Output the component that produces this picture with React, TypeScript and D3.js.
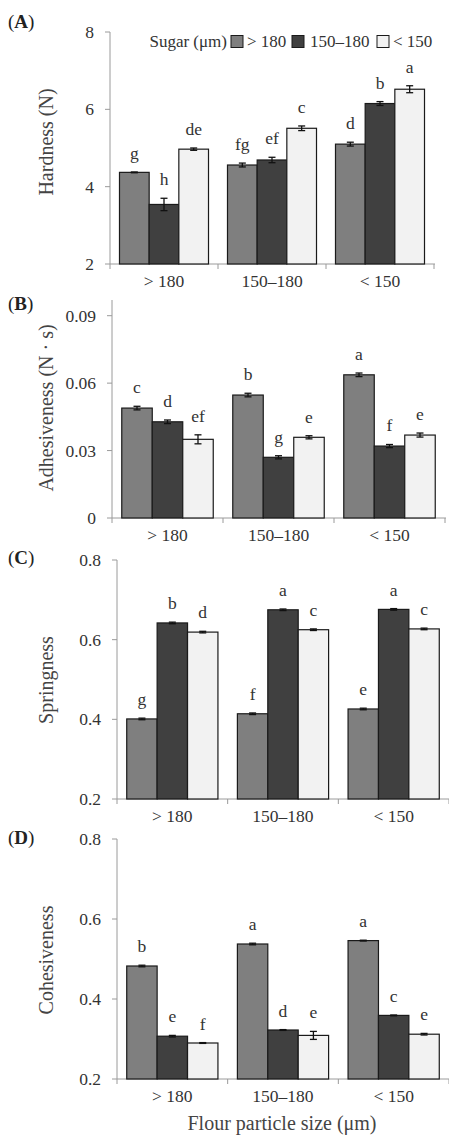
import React from 'react'
import { scaleBand, scaleLinear } from 'd3'

const flourSizes = ['> 180', '150–180', '< 150']
const sugarSizes = ['> 180', '150–180', '< 150']

// rows = flour particle size, columns = sugar particle size
const hardness = [[4.37, 3.54, 4.97], [4.56, 4.69, 5.51], [5.10, 6.15, 6.52]]
const hardnessErr = [[0.01, 0.16, 0.03], [0.05, 0.07, 0.06], [0.05, 0.05, 0.09]]
const hardnessLetters = [['g', 'h', 'de'], ['fg', 'ef', 'c'], ['d', 'b', 'a']]
const hardnessTicks = [2, 4, 6, 8]
const hardnessTickLabels = ['2', '4', '6', '8']

const adhesiveness = [[0.0489, 0.0428, 0.035], [0.0547, 0.027, 0.0359], [0.0637, 0.032, 0.0369]]
const adhesivenessErr = [[0.0008, 0.0008, 0.002], [0.0008, 0.0007, 0.0007], [0.0008, 0.0007, 0.0009]]
const adhesivenessLetters = [['c', 'd', 'ef'], ['b', 'g', 'e'], ['a', 'f', 'e']]
const adhesivenessTicks = [0, 0.03, 0.06, 0.09]
const adhesivenessTickLabels = ['0', '0.03', '0.06', '0.09']

const springiness = [[0.401, 0.642, 0.619], [0.414, 0.675, 0.625], [0.426, 0.676, 0.627]]
const springinessErr = [[0.002, 0.002, 0.002], [0.002, 0.002, 0.002], [0.002, 0.002, 0.002]]
const springinessLetters = [['g', 'b', 'd'], ['f', 'a', 'c'], ['e', 'a', 'c']]
const springinessTicks = [0.2, 0.4, 0.6, 0.8]
const springinessTickLabels = ['0.2', '0.4', '0.6', '0.8']

const cohesiveness = [[0.4825, 0.307, 0.29], [0.5375, 0.3225, 0.309], [0.546, 0.359, 0.312]]
const cohesivenessErr = [[0.002, 0.002, 0.001], [0.002, 0.001, 0.01], [0.001, 0.001, 0.002]]
const cohesivenessLetters = [['b', 'e', 'f'], ['a', 'd', 'e'], ['a', 'c', 'e']]
const cohesivenessTicks = [0.2, 0.4, 0.6, 0.8]
const cohesivenessTickLabels = ['0.2', '0.4', '0.6', '0.8']

const barColors = ['#7f7f7f', '#404040', '#f2f2f2']
const FONT = '"Liberation Serif", "Times New Roman", serif'
const axisColor = '#9a9a9a'
const textColor = '#333'

function Panel(props) {
  const { tag, tagY, title, titleY, values, errs, letters, ticks, tickLabels,
    x0, x1, yLo, yHi, pxLo, pxHi, axisTop } = props

  const xGroup = scaleBand().domain(flourSizes).range([x0, x1]).paddingInner(0).paddingOuter(0)
  const xBar = scaleBand().domain(sugarSizes).range([0, xGroup.bandwidth()]).paddingInner(0).paddingOuter(0.32)
  const y = scaleLinear().domain([yLo, yHi]).range([pxLo, pxHi])
  const top = axisTop ?? pxHi
  const dividers = [x0, ...flourSizes.map(f => xGroup(f) + xGroup.bandwidth())]

  return <g>
    <text x={8} y={tagY} fontSize={19} fontFamily={FONT} fill="#222">
      (<tspan fontWeight="bold">{tag}</tspan>)
    </text>
    <text transform={`translate(46,${titleY}) rotate(-90)`} textAnchor="middle" dominantBaseline="central"
      fontSize={20} fontFamily={FONT} fill="#444">{title}</text>

    <line x1={x0} x2={x0} y1={top} y2={pxLo} stroke={axisColor} strokeWidth={1} />
    <line x1={x0} x2={x1 + 1} y1={pxLo} y2={pxLo} stroke={axisColor} strokeWidth={1} />
    {ticks.map((t, i) => <g key={'t' + i}>
      <line x1={x0 - 5} x2={x0} y1={y(t)} y2={y(t)} stroke={axisColor} />
      <text x={x0 - 16} y={y(t)} dy="0.35em" textAnchor="end" fontSize={17.5} fontFamily={FONT} fill={textColor}>{tickLabels[i]}</text>
    </g>)}
    {dividers.map((d, i) => <line key={'d' + i} x1={d} x2={d} y1={pxLo} y2={pxLo + 5} stroke={axisColor} />)}

    {flourSizes.map((f, gi) => <g key={f} transform={`translate(${xGroup(f)},0)`}>
      {sugarSizes.map((s, si) => {
        const v = values[gi][si]
        const e = errs[gi][si]
        const bx = xBar(s)
        const bw = xBar.bandwidth()
        const cx = bx + bw / 2
        return <g key={s}>
          <rect x={bx} y={y(v)} width={bw} height={pxLo - y(v)} fill={barColors[si]} stroke="#1a1a1a" strokeWidth={1.2} />
          <line x1={cx} x2={cx} y1={y(v + e)} y2={y(v - e)} stroke="#111" strokeWidth={1.3} />
          <line x1={cx - 3.5} x2={cx + 3.5} y1={y(v + e)} y2={y(v + e)} stroke="#111" strokeWidth={1.3} />
          <line x1={cx - 3.5} x2={cx + 3.5} y1={y(v - e)} y2={y(v - e)} stroke="#111" strokeWidth={1.3} />
          <text x={cx} y={y(v + e) - 13} textAnchor="middle" fontSize={17.5} fontFamily={FONT} fill={textColor}>{letters[gi][si]}</text>
        </g>
      })}
      <text x={xGroup.bandwidth() / 2} y={pxLo + 23} textAnchor="middle" fontSize={17.5} fontFamily={FONT} fill={textColor}>{f}</text>
    </g>)}
  </g>
}

function Legend() {
  const items = [{ box: 231, text: 247 }, { box: 292, text: 310 }, { box: 377, text: 393 }]
  return <g>
    <text x={227} y={47} textAnchor="end" fontSize={17} fontFamily={FONT} fill={textColor}>Sugar (μm)</text>
    {sugarSizes.map((s, i) => <g key={s}>
      <rect x={items[i].box} y={35.5} width={12} height={12} fill={barColors[i]} stroke="#1a1a1a" strokeWidth={1} />
      <text x={items[i].text} y={47} fontSize={17} fontFamily={FONT} fill={textColor}>{s}</text>
    </g>)}
  </g>
}

export default function App() {
  return <div style={{ position: 'absolute', left: 0, top: 0 }}>
    <svg width={449} height={1138} style={{ display: 'block', background: '#fff' }}>
      <Panel tag="A" tagY={28} title="Hardness (N)" titleY={142}
        values={hardness} errs={hardnessErr} letters={hardnessLetters}
        ticks={hardnessTicks} tickLabels={hardnessTickLabels}
        x0={110} x1={434} yLo={2} yHi={8} pxLo={264} pxHi={32} />
      <Legend />
      <Panel tag="B" tagY={310} title="Adhesiveness (N · s)" titleY={408}
        values={adhesiveness} errs={adhesivenessErr} letters={adhesivenessLetters}
        ticks={adhesivenessTicks} tickLabels={adhesivenessTickLabels}
        x0={112} x1={445} yLo={0} yHi={0.09} pxLo={518} pxHi={315.7} axisTop={300} />
      <Panel tag="C" tagY={564} title="Springness" titleY={680}
        values={springiness} errs={springinessErr} letters={springinessLetters}
        ticks={springinessTicks} tickLabels={springinessTickLabels}
        x0={117} x1={449} yLo={0.2} yHi={0.8} pxLo={799} pxHi={560} />
      <Panel tag="D" tagY={844} title="Cohesiveness" titleY={960}
        values={cohesiveness} errs={cohesivenessErr} letters={cohesivenessLetters}
        ticks={cohesivenessTicks} tickLabels={cohesivenessTickLabels}
        x0={117} x1={449} yLo={0.2} yHi={0.8} pxLo={1079} pxHi={839} />
      <text x={282} y={1130} textAnchor="middle" fontSize={20} fontFamily={FONT} fill="#444">Flour particle size (μm)</text>
    </svg>
  </div>
}
